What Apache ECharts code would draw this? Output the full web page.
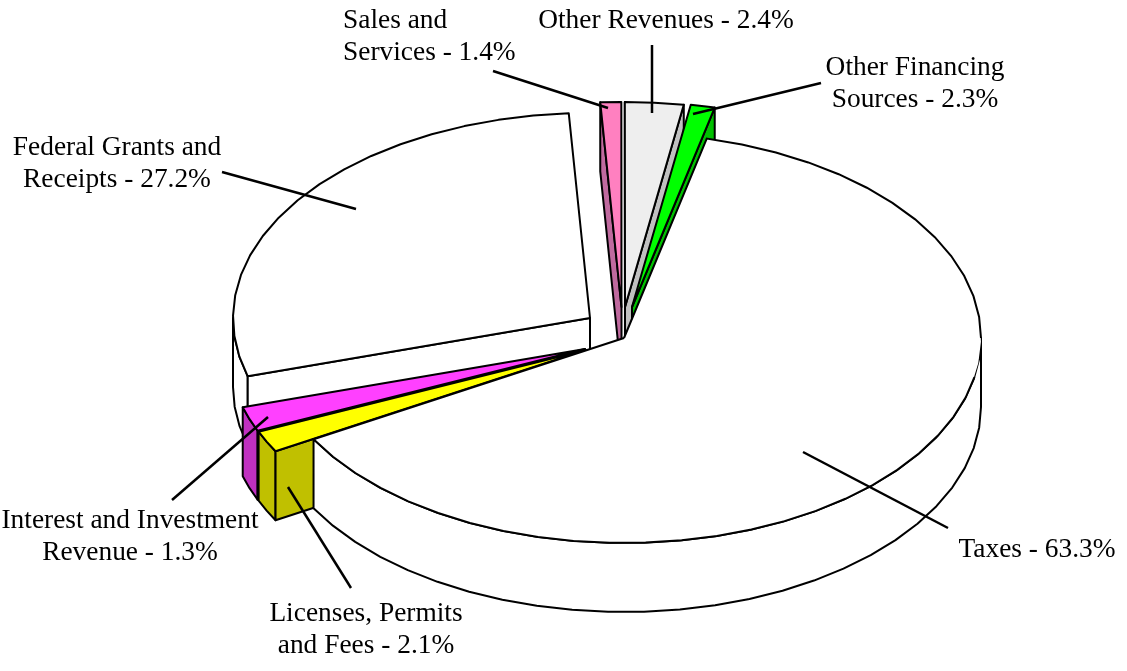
<!DOCTYPE html>
<html>
<head>
<meta charset="utf-8">
<title>Revenue pie</title>
<script src="https://cdn.jsdelivr.net/npm/echarts@6/dist/echarts.min.js"></script>
<style>
  html, body { margin: 0; padding: 0; background: #fff; }
  #chart { width: 1127px; height: 671px; }
</style>
</head>
<body>
<div id="chart"></div>
<script>
// clockwise, starting from the Taxes slice
const categories = ["Taxes", "Licenses, Permits and Fees", "Interest and Investment Revenue", "Federal Grants and Receipts", "Sales and Services", "Other Revenues", "Other Financing Sources"];
// what the labels say
const labelPercents = [63.3, 2.1, 1.3, 27.2, 1.4, 2.4, 2.3];
// the sweeps as drawn in the picture, they do not quite follow the labels
const drawnShares = [63.06, 1.69, 1.94, 28.64, 0.94, 2.64, 1.09];

const topColors = ["#ffffff", "#ffff00", "#ff40ff", "#ffffff", "#ff80c0", "#eeeeee", "#00ff00"];
const wallColors = ["#ffffff", "#c0c000", "#c030c0", "#ffffff", "#c06a9f", "#c0c0c0", "#00c000"];
// apex of every exploded slice, in pixels
const apexes = [[624, 338], [586, 350], [585, 349], [590, 318], [621.5, 307], [625, 307], [632, 307]];
const paintOrder = [7, 6, 5, 1, 2, 3, 4];

const startAngle = 13.4;
const radiusX = 357;
const radiusY = 205;
const depth = 69;
const stroke = "#000";
const strokeWidth = 2;
const leaderWidth = 2.5;

const labelLines = [
  { lines: ["Taxes - " + labelPercents[0] + "%"], x: 1037, y: 550 },
  { lines: ["Licenses, Permits", "and Fees - " + labelPercents[1] + "%"], x: 366, y: 614 },
  { lines: ["Interest and Investment", "Revenue - " + labelPercents[2] + "%"], x: 130, y: 521 },
  { lines: ["Federal Grants and", "Receipts - " + labelPercents[3] + "%"], x: 117, y: 148 },
  { lines: ["Sales and", "Services - " + labelPercents[4] + "%"], x: 343, y: 21, align: "left" },
  { lines: ["Other Revenues - " + labelPercents[5] + "%"], x: 666, y: 21 },
  { lines: ["Other Financing", "Sources - " + labelPercents[6] + "%"], x: 915, y: 68 }
];
const leaders = [
  [948, 528, 803, 452],
  [351, 588, 288, 487],
  [172, 500, 268, 417],
  [222, 172, 356, 209],
  [493, 71, 608, 108],
  [652, 45, 652, 113],
  [821, 83, 693, 114]
];

function rimPoint(apex, deg, drop) {
  const t = (deg * Math.PI) / 180;
  return [apex[0] + radiusX * Math.sin(t), apex[1] - radiusY * Math.cos(t) + (drop || 0)];
}

function arc(apex, from, to, drop) {
  const pts = [];
  const n = Math.max(1, Math.ceil(Math.abs(to - from) / 6));
  for (let i = 0; i <= n; i++) {
    pts.push(rimPoint(apex, from + ((to - from) * i) / n, drop));
  }
  return pts;
}

function renderSlice(params, api) {
  const i = params.dataIndex;
  let t0 = startAngle;
  for (let k = 0; k < i; k++) t0 += (api.value(1, k) / 100) * 360;
  const t1 = t0 + (api.value(1) / 100) * 360;
  const apex = apexes[i];
  const z = paintOrder[i] * 10;
  const wallStyle = { fill: wallColors[i], stroke: stroke, lineWidth: strokeWidth, lineJoin: "round" };
  const children = [];

  // outer rim wall, only the front half of the ellipse shows
  const wallFrom = Math.max(t0, 90);
  const wallTo = Math.min(t1, 270);
  if (wallTo > wallFrom) {
    children.push({
      type: "polygon",
      z2: z,
      shape: { points: arc(apex, wallFrom, wallTo, 0).concat(arc(apex, wallTo, wallFrom, depth)) },
      style: wallStyle
    });
  }

  // cut faces
  const cutAngles = [];
  if (t0 % 360 > 180 && t0 % 360 < 360) cutAngles.push(t0);
  if (t1 % 360 > 0 && t1 % 360 < 180) cutAngles.push(t1);
  cutAngles.forEach(function (a) {
    const rim = rimPoint(apex, a, 0);
    children.push({
      type: "polygon",
      z2: z + 1,
      shape: { points: [apex, rim, [rim[0], rim[1] + depth], [apex[0], apex[1] + depth]] },
      style: wallStyle
    });
  });

  // top face, the outline of Taxes has a break at its right end like the source
  const rim = arc(apex, t0, t1, 0);
  children.push({
    type: "polygon",
    z2: z + 2,
    shape: { points: [apex].concat(rim) },
    style: { fill: topColors[i], stroke: i === 0 ? null : stroke, lineWidth: strokeWidth, lineJoin: "round" }
  });
  if (i === 0) {
    children.push({
      type: "polyline",
      z2: z + 3,
      shape: { points: [apex].concat(arc(apex, t0, 90, 0)) },
      style: { fill: null, stroke: stroke, lineWidth: strokeWidth }
    });
    children.push({
      type: "polyline",
      z2: z + 3,
      shape: { points: arc(apex, 101, t1, 0).concat([apex]) },
      style: { fill: null, stroke: stroke, lineWidth: strokeWidth }
    });
  }
  return { type: "group", children: children };
}

const graphics = [];
labelLines.forEach(function (l) {
  l.lines.forEach(function (line, n) {
    graphics.push({
      type: "text",
      z: 20,
      silent: true,
      x: l.x,
      y: l.y + n * 32,
      style: {
        text: line,
        fill: "#000",
        font: '27.4px "Liberation Serif"',
        align: l.align || "center",
        verticalAlign: "middle"
      }
    });
  });
});
leaders.forEach(function (p) {
  graphics.push({
    type: "line",
    z: 20,
    silent: true,
    shape: { x1: p[0], y1: p[1], x2: p[2], y2: p[3] },
    style: { stroke: stroke, lineWidth: leaderWidth }
  });
});

const chart = echarts.init(document.getElementById("chart"), null, { renderer: "canvas" });
chart.setOption({
  animation: false,
  backgroundColor: "#fff",
  series: [
    {
      type: "custom",
      coordinateSystem: "none",
      silent: true,
      renderItem: renderSlice,
      dimensions: ["name", "share"],
      data: categories.map(function (c, i) { return [c, drawnShares[i]]; })
    }
  ],
  graphic: graphics
});
</script>
</body>
</html>
